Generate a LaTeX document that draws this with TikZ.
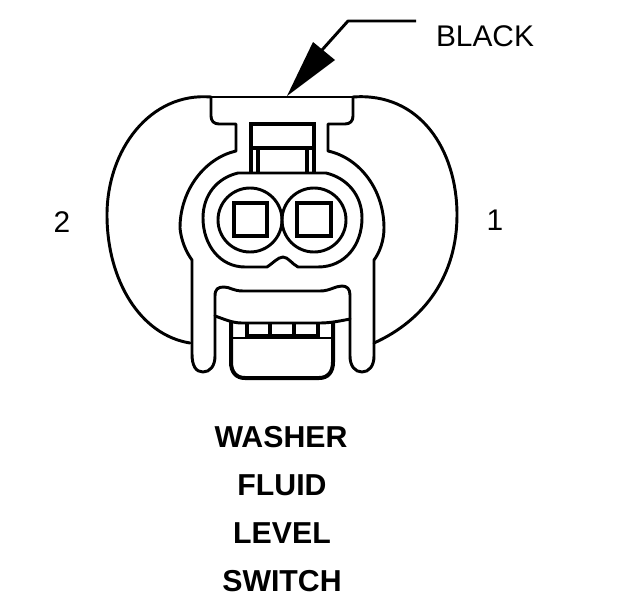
\documentclass[tikz,border=0pt]{standalone}
\usepackage{fontspec}
\setmainfont{Liberation Sans}
\tikzset{
  ln/.style={line width=2.2pt,line join=round,line cap=round},
  hv/.style={line width=3pt,line join=miter},
  reg/.style={font=\fontsize{22.4}{25}\selectfont,inner sep=0pt},
  lbl/.style={font=\bfseries\fontsize{22.7}{25}\selectfont,inner sep=0pt},
}
\begin{document}
\begin{tikzpicture}[x=0.75pt,y=-0.75pt]
\useasboundingbox (0,0) rectangle (624,600);
% outer body arcs
\draw[ln] (211,97) .. controls (150,92) and (107,150) .. (107,215) .. controls (107,280) and (140,335) .. (190,343);
\draw[ln] (353,97) .. controls (420,92) and (457,150) .. (457,215) .. controls (457,275) and (425,320) .. (374,343);
% top collar
\draw[ln] (208,97) -- (358,97);
\draw[ln] (211,97) -- (211,116) .. controls (211,121) and (214,124) .. (219,124) -- (236,124) -- (236,151)
  .. controls (205,158) and (180,190) .. (180,228) .. controls (181,240) and (186,252) .. (192,260)
  -- (192,354) .. controls (192,366) and (196,372) .. (203,372) .. controls (210,372) and (215,366) .. (215,356)
  -- (215,296) .. controls (215,289) and (218,287) .. (224,287) .. controls (230,287) and (233,291) .. (243,291)
  -- (320,291) .. controls (330,291) and (335,286) .. (342,286) .. controls (347,286) and (350,289) .. (350,295)
  -- (350,356) .. controls (350,366) and (355,372) .. (362,372) .. controls (369,372) and (374,366) .. (374,356)
  -- (374,260) .. controls (380,252) and (384,240) .. (384,228) .. controls (384,190) and (360,158) .. (328,151)
  -- (328,124) -- (345,124) .. controls (350,124) and (353,121) .. (353,116) -- (353,97);
% window
\draw[hv] (251,173) -- (251,124) -- (314,124) -- (314,173);
\draw[hv] (251,148) -- (314,148);
\draw[hv] (258,148) -- (258,173);
\draw[hv] (307,148) -- (307,173);
% barrel outline
\draw[ln] (238,173) -- (326,173) .. controls (347,178) and (362,195) .. (362,218) .. controls (362,245) and (345,267) .. (318,267)
  -- (298,267) .. controls (292,264) and (288,257) .. (283,257) .. controls (278,257) and (272,264) .. (267,267)
  -- (245,267) .. controls (220,267) and (203,245) .. (203,218) .. controls (203,195) and (217,178) .. (238,173);
% cavities
\draw[ln] (250,220) circle [radius=32];
\draw[ln] (314,220) circle [radius=32];
\draw[hv] (234,203) rectangle (267,236);
\draw[hv] (297,203) rectangle (331,236);
% lower latch
\draw[ln] (215,316) .. controls (224,319) and (232,323) .. (242,323) -- (320,323) .. controls (330,323) and (340,321) .. (350,319);
\draw[hv] (231,322) -- (231,362) .. controls (231,372) and (236,378) .. (245,378) -- (319,378) .. controls (328,378) and (333,372) .. (333,362) -- (333,322);
\draw[ln] (231,338) -- (333,338);
\draw[line width=3.2pt] (246,336) -- (319,336);
\draw[hv] (247,323) -- (247,337);
\draw[hv] (270,323) -- (270,337);
\draw[hv] (294,323) -- (294,337);
\draw[hv] (318,323) -- (318,337);
% leader
\coordinate (tip) at (287,96);
\draw[ln,line cap=butt] (416,21) -- (348,21) -- (322,50);
\fill (tip) -- (313,42) -- (335,60) -- cycle;
% labels
\node[reg,anchor=center] (black) at (485,36) {BLACK};
\node[reg] (two) at (62,222) {2};
\node[reg] (one) at (495,220) {1};
\node[lbl] (l1) at (281,437) {WASHER};
\node[lbl] (l2) at (282,485) {FLUID};
\node[lbl] (l3) at (282,533) {LEVEL};
\node[lbl] (l4) at (282,581) {SWITCH};
\end{tikzpicture}
\end{document}
